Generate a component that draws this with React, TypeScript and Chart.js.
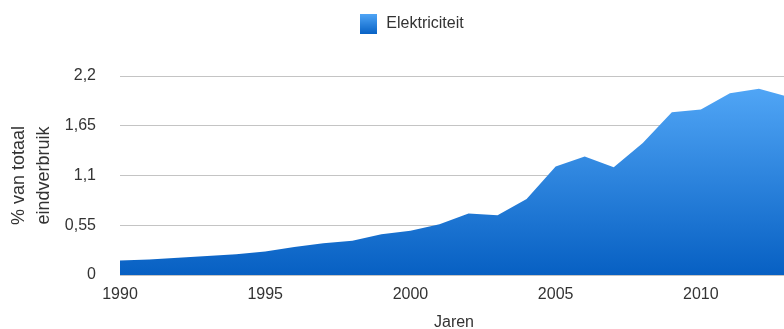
import React, { useEffect, useRef } from 'react';
import { Chart, registerables } from 'chart.js';

Chart.register(...registerables);

// ---- data ----
const years = [
  1990, 1991, 1992, 1993, 1994, 1995, 1996, 1997, 1998, 1999, 2000, 2001,
  2002, 2003, 2004, 2005, 2006, 2007, 2008, 2009, 2010, 2011, 2012, 2013,
];
const elektriciteit = [
  0.16, 0.17, 0.19, 0.21, 0.23, 0.26, 0.31, 0.35, 0.38, 0.45, 0.49, 0.56,
  0.68, 0.66, 0.84, 1.2, 1.31, 1.19, 1.46, 1.8, 1.83, 2.01, 2.06, 1.97,
];
const xTickValues = [1990, 1995, 2000, 2005, 2010];
const yTickValues = [0, 0.55, 1.1, 1.65, 2.2];
const seriesLabel = 'Elektriciteit';
const xTitle = 'Jaren';
const yTitle = ['% van totaal', 'eindverbruik'];

const FONT = "'Liberation Sans', Arial, sans-serif";
const TEXT = '#333333';

export default function App() {
  const ref = useRef<HTMLCanvasElement>(null);

  useEffect(() => {
    const canvas = ref.current;
    if (!canvas) return;

    // legend swatch with its own vertical gradient
    const swatch = document.createElement('canvas');
    swatch.width = 17;
    swatch.height = 20;
    const sctx = swatch.getContext('2d')!;
    const sg = sctx.createLinearGradient(0, 0, 0, 20);
    sg.addColorStop(0, '#4fa5f6');
    sg.addColorStop(1, '#0862c5');
    sctx.fillStyle = sg;
    sctx.fillRect(0, 0, 17, 20);

    const chart = new Chart(canvas, {
      type: 'line',
      data: {
        datasets: [
          {
            label: seriesLabel,
            data: years.map((x, i) => ({ x, y: elektriciteit[i] })),
            fill: 'origin',
            tension: 0,
            borderWidth: 0,
            borderColor: 'rgba(0,0,0,0)',
            pointRadius: 0,
            pointHoverRadius: 0,
            backgroundColor: (c: any) => {
              const { chart: ch } = c;
              const area = ch.chartArea;
              if (!area) return '#2e85e0';
              const g = ch.ctx.createLinearGradient(0, area.top, 0, area.bottom);
              g.addColorStop(0, '#55aaf9');
              g.addColorStop(1, '#0760c3');
              return g;
            },
            xAxisID: 'x',
            yAxisID: 'y',
          },
        ],
      },
      options: {
        responsive: false,
        animation: false,
        layout: { padding: { top: 6, left: 0, right: 0, bottom: 0 } },
        plugins: {
          tooltip: { enabled: false },
          legend: {
            position: 'top',
            labels: {
              usePointStyle: true,
              pointStyle: swatch as any,
              pointStyleWidth: 20,
              color: TEXT,
              padding: 10,
              font: { family: FONT, size: 16 },
            },
          },
        },
        scales: {
          x: {
            type: 'linear',
            position: 'bottom',
            min: 1990,
            max: 2013,
            grid: { display: false },
            border: { display: false },
            afterBuildTicks: (s: any) => {
              s.ticks = xTickValues.map((v) => ({ value: v }));
            },
            ticks: {
              padding: 2,
              maxRotation: 0,
              autoSkip: false,
              color: TEXT,
              font: { family: FONT, size: 16 },
              callback: (v: any) => String(v),
            },
            title: {
              display: true,
              text: xTitle,
              color: TEXT,
              font: { family: FONT, size: 16 },
              padding: { top: 0, bottom: 0 },
            },
            afterFit: (s: any) => {
              s.height = 57;
            },
          },
          y: {
            type: 'linear',
            position: 'left',
            min: 0,
            max: 2.2,
            grid: { color: '#c4c4c4', lineWidth: 1, drawTicks: false },
            border: { display: false },
            afterBuildTicks: (s: any) => {
              s.ticks = yTickValues.map((v) => ({ value: v }));
            },
            ticks: {
              padding: 24,
              color: TEXT,
              font: { family: FONT, size: 16 },
              callback: (v: any) => String(v).replace('.', ','),
            },
            title: {
              display: true,
              text: yTitle,
              color: TEXT,
              font: { family: FONT, size: 18, lineHeight: 1.4 },
              padding: { top: 6, bottom: 0 },
            },
            afterFit: (s: any) => {
              s.width = 120;
            },
          },
          xTop: {
            type: 'linear',
            position: 'top',
            grid: { display: false },
            border: { display: false },
            ticks: { display: false },
            afterFit: (s: any) => {
              s.height = 34;
            },
          },
          yRight: {
            type: 'linear',
            position: 'right',
            grid: { display: false },
            border: { display: false },
            ticks: { display: false },
            afterFit: (s: any) => {
              s.width = 34;
            },
          },
        },
      } as any,
    });
    return () => chart.destroy();
  }, []);

  return (
    <div style={{ position: 'fixed', left: 0, top: 0 }}>
      <canvas ref={ref} width={822} height={332} style={{ display: 'block' }} />
    </div>
  );
}
